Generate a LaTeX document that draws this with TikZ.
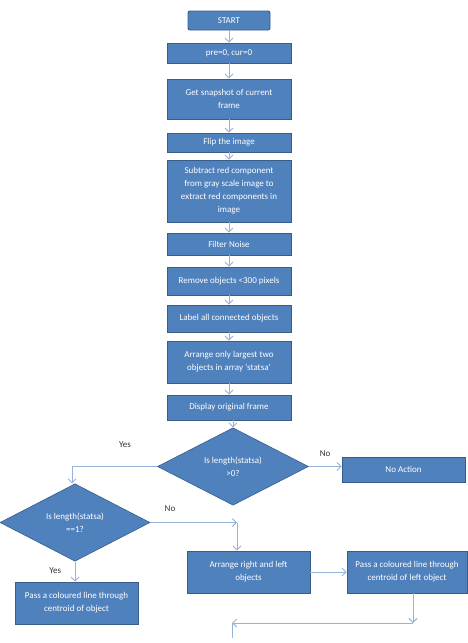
\documentclass[tikz,border=0pt]{standalone}
\usepackage{fontspec}
\setmainfont{Carlito}
\usetikzlibrary{shapes.geometric, arrows.meta}

\definecolor{boxfill}{HTML}{4F81BD}
\definecolor{boxline}{HTML}{385D8A}
\definecolor{flowline}{HTML}{95B3D7}

\tikzset{
	procbox/.style={rectangle, draw=boxline, fill=boxfill, line width=0.9pt, text=white, align=center, inner sep=1pt, font=\fontsize{9}{13}\selectfont},
	decbox/.style={diamond, draw=boxline, fill=boxfill, line width=0.6pt, text=white, align=center, inner sep=0pt, font=\fontsize{9}{13}\selectfont},
	flowarrow/.style={-{Straight Barb[length=4pt, width=8pt]}, draw=flowline, line width=0.9pt},
	ans/.style={text=black!80, font=\fontsize{9}{10}\selectfont}
}

\begin{document}
\begin{tikzpicture}[x=1pt,y=-1pt]
		\useasboundingbox (0,0) rectangle (467,643);
		% Box widths
		\def\wA{124}
		\def\wB{123}
		% Main column of steps
		\node[procbox, rounded corners=2pt, minimum width=82pt, minimum height=19pt] (start) at (229,20.5) {START};
		\node[procbox, minimum width=\wA pt, minimum height=20pt] (init) at (229,53) {pre=0, cur=0};
		\node[procbox, minimum width=\wA pt, minimum height=40pt] (snap) at (229,99) {Get snapshot of current\\frame};
		\node[procbox, minimum width=\wA pt, minimum height=19pt] (flip) at (229,142.5) {Flip the image};
		\node[procbox, minimum width=\wA pt, minimum height=62pt] (subtract) at (229,191) {Subtract red component\\from gray scale image to\\extract red components in\\image};
		\node[procbox, minimum width=\wA pt, minimum height=22pt] (filter) at (229,244) {Filter Noise};
		\node[procbox, minimum width=\wA pt, minimum height=28pt] (remove) at (229,281) {Remove objects <300 pixels};
		\node[procbox, minimum width=\wA pt, minimum height=27pt] (labelobj) at (229,318.5) {Label all connected objects};
		\node[procbox, minimum width=\wA pt, minimum height=42pt] (arrange) at (229,362) {Arrange only largest two\\objects in array `statsa'};
		\node[procbox, minimum width=\wA pt, minimum height=25pt] (display) at (229,407.5) {Display original frame};
		% Decisions
		\node[decbox, minimum width=151pt, minimum height=70pt] (lenzero) at (233,466.5) {Is length(statsa)\\>0?};
		\node[decbox, minimum width=150pt, minimum height=66pt] (lenone) at (75,522.5) {Is length(statsa)\\==1?};
		% Outcome boxes
		\node[procbox, minimum width=\wB pt, minimum height=25pt] (noaction) at (403.5,469.5) {No Action};
		\node[procbox, minimum width=\wB pt, minimum height=42pt] (passone) at (76.5,603) {Pass a coloured line through\\centroid of object};
		\node[procbox, minimum width=\wB pt, minimum height=42pt] (rightleft) at (248.5,572) {Arrange right and left\\objects};
		\node[procbox, minimum width=120pt, minimum height=42pt] (passleft) at (407,572) {Pass a coloured line through\\centroid of left object};
		% Bends of the return path
		\coordinate (turn) at (237,522.5);
		\coordinate (back) at (413,623);
		\coordinate (loop) at (232,623);
		\coordinate (tail) at (232,638);
		% Arrows down the main column
		\draw[flowarrow] (start) -- (init);
		\draw[flowarrow] (init) -- (snap);
		\draw[flowarrow] (snap) -- (flip);
		\draw[flowarrow] (flip) -- (subtract);
		\draw[flowarrow] (subtract) -- (filter);
		\draw[flowarrow] (filter) -- (remove);
		\draw[flowarrow] (remove) -- (labelobj);
		\draw[flowarrow] (labelobj) -- (arrange);
		\draw[flowarrow] (arrange) -- (display);
		\draw[flowarrow] (display.south -| lenzero.north) -- (lenzero.north);
		% Branches
		\draw[flowarrow] (lenzero.east) -- (lenzero.east -| noaction.west) node[ans, pos=0.5, above=6pt] {No};
		\draw[flowarrow] (lenzero.west) -| ([xshift=-3pt]lenone.north);
		\node[ans] (yesone) at (125,445) {Yes};
		\draw[flowarrow] (lenone.east) -- (turn);
		\node[ans] (notwo) at (170,509) {No};
		\draw[flowarrow] (turn) -- (turn |- rightleft.north);
		\draw[flowarrow] (lenone.south) -- (lenone.south |- passone.north) node[ans, pos=0.45, left=10pt] {Yes};
		\draw[flowarrow] (rightleft.east) -- (passleft.west);
		\draw[flowarrow] (passleft.south -| back) -- (back);
		\draw[flowarrow] (back) -- (loop);
		\draw[draw=flowline, line width=0.9pt] (loop) -- (tail);
	\end{tikzpicture}
\end{document}
